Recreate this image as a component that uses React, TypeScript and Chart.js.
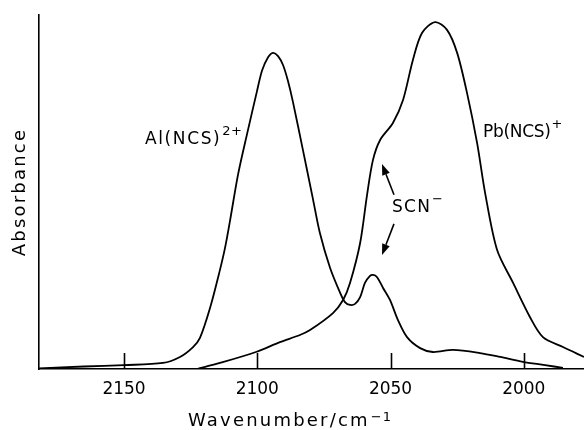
import React, { useEffect, useRef } from 'react';
import { Chart, registerables } from 'chart.js';

Chart.register(...registerables);

// Axis range (wavenumber decreases to the right)
const X_MIN = 1977.4;
const X_MAX = 2181.9;
const X_TICKS = [2150, 2100, 2050, 2000];
const Y_MIN = 0;
const Y_MAX = 100;

// Al(NCS)2+ spectrum (with the small SCN- band)
const AL_WAVENUMBER = [
  2181.9, 2165, 2150, 2135.4, 2129, 2124.1, 2121.5, 2117.7, 2114, 2112.1, 2110.2,
  2107.2, 2103.8, 2100.1, 2098.2, 2096, 2094.1, 2092.2, 2090.3, 2088.5, 2086.6, 2082.8,
  2079.1, 2076.5, 2072.7, 2068.9, 2067.1, 2065.2, 2063.3, 2061.4, 2059.6, 2057.7,
  2056.6, 2055.1, 2052.8, 2050.2, 2047.2, 2043.8, 2038.9, 2034.1, 2026.5, 2016.4,
  2008.9, 2000.3, 1992, 1985.3,
];
const AL_ABSORBANCE = [
  0.2, 0.7, 1.1, 1.7, 3.4, 6.2, 8.8, 17.3, 28.0, 34.2, 42.0,
  55.0, 66.5, 78.5, 84.3, 88.0, 89.3, 88.4, 85.8, 81.4, 75.4, 61.6,
  48.0, 38.4, 28.6, 21.5, 18.9, 18.1, 18.4, 20.3, 24.3, 26.3,
  26.6, 26.0, 22.9, 19.5, 13.8, 9.0, 5.9, 4.8, 5.4, 4.5,
  3.4, 2.0, 1.1, 0.3,
];

// Pb(NCS)+ spectrum
const PB_WAVENUMBER = [
  2122.6, 2114, 2100.5, 2091.5, 2084, 2080.2, 2071.6, 2067.8, 2065.2, 2061.4,
  2058.8, 2056.6, 2053.9, 2049.1, 2045.3, 2041.6, 2038.2, 2033.3, 2028.8, 2025,
  2021.3, 2017.5, 2014.5, 2010, 2004, 1997.7, 1992.8, 1985.3, 1977.4,
];
const PB_ABSORBANCE = [
  0, 1.7, 4.8, 7.6, 9.6, 11.0, 15.8, 19.5, 24.3, 35.6,
  49.2, 59.0, 64.7, 69.5, 76.0, 87.3, 94.9, 98.0, 95.8, 89.3,
  78.0, 63.8, 49.7, 33.6, 24.3, 14.7, 9.0, 6.2, 3.4,
];

// Annotation labels (left anchor in data units)
const ANNOT_TEXT = ['Al(NCS)', 'Pb(NCS)', 'SCN'];
const ANNOT_SUP = ['2+', '+', '\u2212'];
const ANNOT_X = [2142.1, 2015.3, 2049.4];
const ANNOT_Y = [64.7, 66.9, 45.5];

// SCN- arrows (tail -> tip, data units)
const ARROW_TAIL_X = [2048.7, 2048.7];
const ARROW_TAIL_Y = [49.2, 41.0];
const ARROW_TIP_X = [2053.2, 2053.2];
const ARROW_TIP_Y = [57.9, 32.2];

const X_TITLE = 'Wavenumber/cm';
const X_TITLE_SUP = '\u22121';
const Y_TITLE = 'Absorbance';

const FONT = '"DejaVu Sans", sans-serif';
const ANNOT_LETTER_SPACING = ['1.6px', '-0.3px', '1.2px'];

export default function App() {
  const ref = useRef<HTMLCanvasElement>(null);

  useEffect(() => {
    const canvas = ref.current!;

    const spacing = {
      id: 'spacing',
      beforeDraw(c: any) { c.ctx.letterSpacing = '2.2px'; },
      beforeDatasetsDraw(c: any) { c.ctx.letterSpacing = '0px'; },
    };

    const tickMarks = {
      id: 'tickMarks',
      afterDatasetsDraw(c: any) {
        const { ctx, chartArea, scales } = c;
        const x = scales.x;
        ctx.save();
        ctx.strokeStyle = '#000';
        ctx.lineWidth = 1.6;
        x.ticks.forEach((t: any) => {
          const px = Math.round(x.getPixelForValue(t.value)) + 0.5;
          ctx.beginPath();
          ctx.moveTo(px, chartArea.bottom);
          ctx.lineTo(px, chartArea.bottom - 16);
          ctx.stroke();
        });
        ctx.restore();
      },
    };

    const annotations = {
      id: 'annotations',
      afterDraw(c: any) {
        const { ctx, chartArea, scales } = c;
        const x = scales.x;
        const y = scales.y;
        ctx.save();
        ctx.fillStyle = '#000';
        ctx.strokeStyle = '#000';
        ctx.textBaseline = 'middle';
        ctx.textAlign = 'left';

        // labels
        ANNOT_TEXT.forEach((txt, i) => {
          const px = x.getPixelForValue(ANNOT_X[i]);
          const py = y.getPixelForValue(ANNOT_Y[i]);
          ctx.letterSpacing = ANNOT_LETTER_SPACING[i];
          ctx.font = `17px ${FONT}`;
          ctx.fillText(txt, px, py);
          const w = ctx.measureText(txt).width;
          ctx.font = `13px ${FONT}`;
          ctx.letterSpacing = '0.5px';
          ctx.fillText(ANNOT_SUP[i], px + w + 1, py - 8);
        });

        // arrows
        ctx.lineWidth = 1.6;
        ARROW_TAIL_X.forEach((_, i) => {
          const x0 = x.getPixelForValue(ARROW_TAIL_X[i]);
          const y0 = y.getPixelForValue(ARROW_TAIL_Y[i]);
          const x1 = x.getPixelForValue(ARROW_TIP_X[i]);
          const y1 = y.getPixelForValue(ARROW_TIP_Y[i]);
          const ang = Math.atan2(y1 - y0, x1 - x0);
          const hl = 11;
          const hw = 4;
          const bx = x1 - hl * Math.cos(ang);
          const by = y1 - hl * Math.sin(ang);
          ctx.beginPath();
          ctx.moveTo(x0, y0);
          ctx.lineTo(bx, by);
          ctx.stroke();
          ctx.beginPath();
          ctx.moveTo(x1, y1);
          ctx.lineTo(bx + hw * Math.sin(ang), by - hw * Math.cos(ang));
          ctx.lineTo(bx - hw * Math.sin(ang), by + hw * Math.cos(ang));
          ctx.closePath();
          ctx.fill();
        });

        // x-axis title
        ctx.letterSpacing = '2.2px';
        ctx.font = `18px ${FONT}`;
        const tx = chartArea.left + 149;
        const ty = 421;
        ctx.fillText(X_TITLE, tx, ty);
        const tw = ctx.measureText(X_TITLE).width;
        ctx.font = `13px ${FONT}`;
        ctx.letterSpacing = '1px';
        ctx.fillText(X_TITLE_SUP, tx + tw + 1, ty - 3);
        ctx.restore();
      },
    };

    const chart = new Chart(canvas, {
      type: 'line',
      data: {
        datasets: [
          {
            label: 'Al(NCS)2+',
            data: AL_WAVENUMBER.map((v, i) => ({ x: v, y: AL_ABSORBANCE[i] })),
            borderColor: '#000',
            borderWidth: 1.8,
            pointRadius: 0,
            fill: false,
            tension: 0.3,
          },
          {
            label: 'Pb(NCS)+',
            data: PB_WAVENUMBER.map((v, i) => ({ x: v, y: PB_ABSORBANCE[i] })),
            borderColor: '#000',
            borderWidth: 1.8,
            pointRadius: 0,
            fill: false,
            tension: 0.3,
          },
        ],
      },
      options: {
        animation: false,
        responsive: true,
        maintainAspectRatio: false,
        layout: { padding: { top: 15, left: 0, right: 0, bottom: 20.6 } },
        plugins: { legend: { display: false }, tooltip: { enabled: false } },
        scales: {
          x: {
            type: 'linear',
            reverse: true,
            min: X_MIN,
            max: X_MAX,
            afterBuildTicks: (s: any) => { s.ticks = X_TICKS.map((v) => ({ value: v })); },
            grid: { display: true, drawOnChartArea: false, drawTicks: false },
            border: { display: true, color: '#000', width: 1.6 },
            ticks: {
              z: 1,
              padding: 10,
              color: '#000',
              autoSkip: false,
              maxRotation: 0,
              font: { family: FONT, size: 17, lineHeight: 1.2 },
              callback: (v: any) => String(v),
            },
          },
          y: {
            type: 'linear',
            min: Y_MIN,
            max: Y_MAX,
            grid: { display: true, drawOnChartArea: false, drawTicks: false },
            border: { display: true, color: '#000', width: 1.6 },
            ticks: { display: false },
            title: {
              display: true,
              text: Y_TITLE,
              color: '#000',
              font: { family: FONT, size: 18, lineHeight: 1 },
              padding: { top: 11.5, bottom: 9.5 },
            },
          },
        },
      } as any,
      plugins: [spacing, tickMarks, annotations],
    });

    return () => chart.destroy();
  }, []);

  return (
    <div style={{ position: 'fixed', left: 0, top: 0, width: 584, height: 430, background: '#fff' }}>
      <canvas ref={ref} />
    </div>
  );
}
